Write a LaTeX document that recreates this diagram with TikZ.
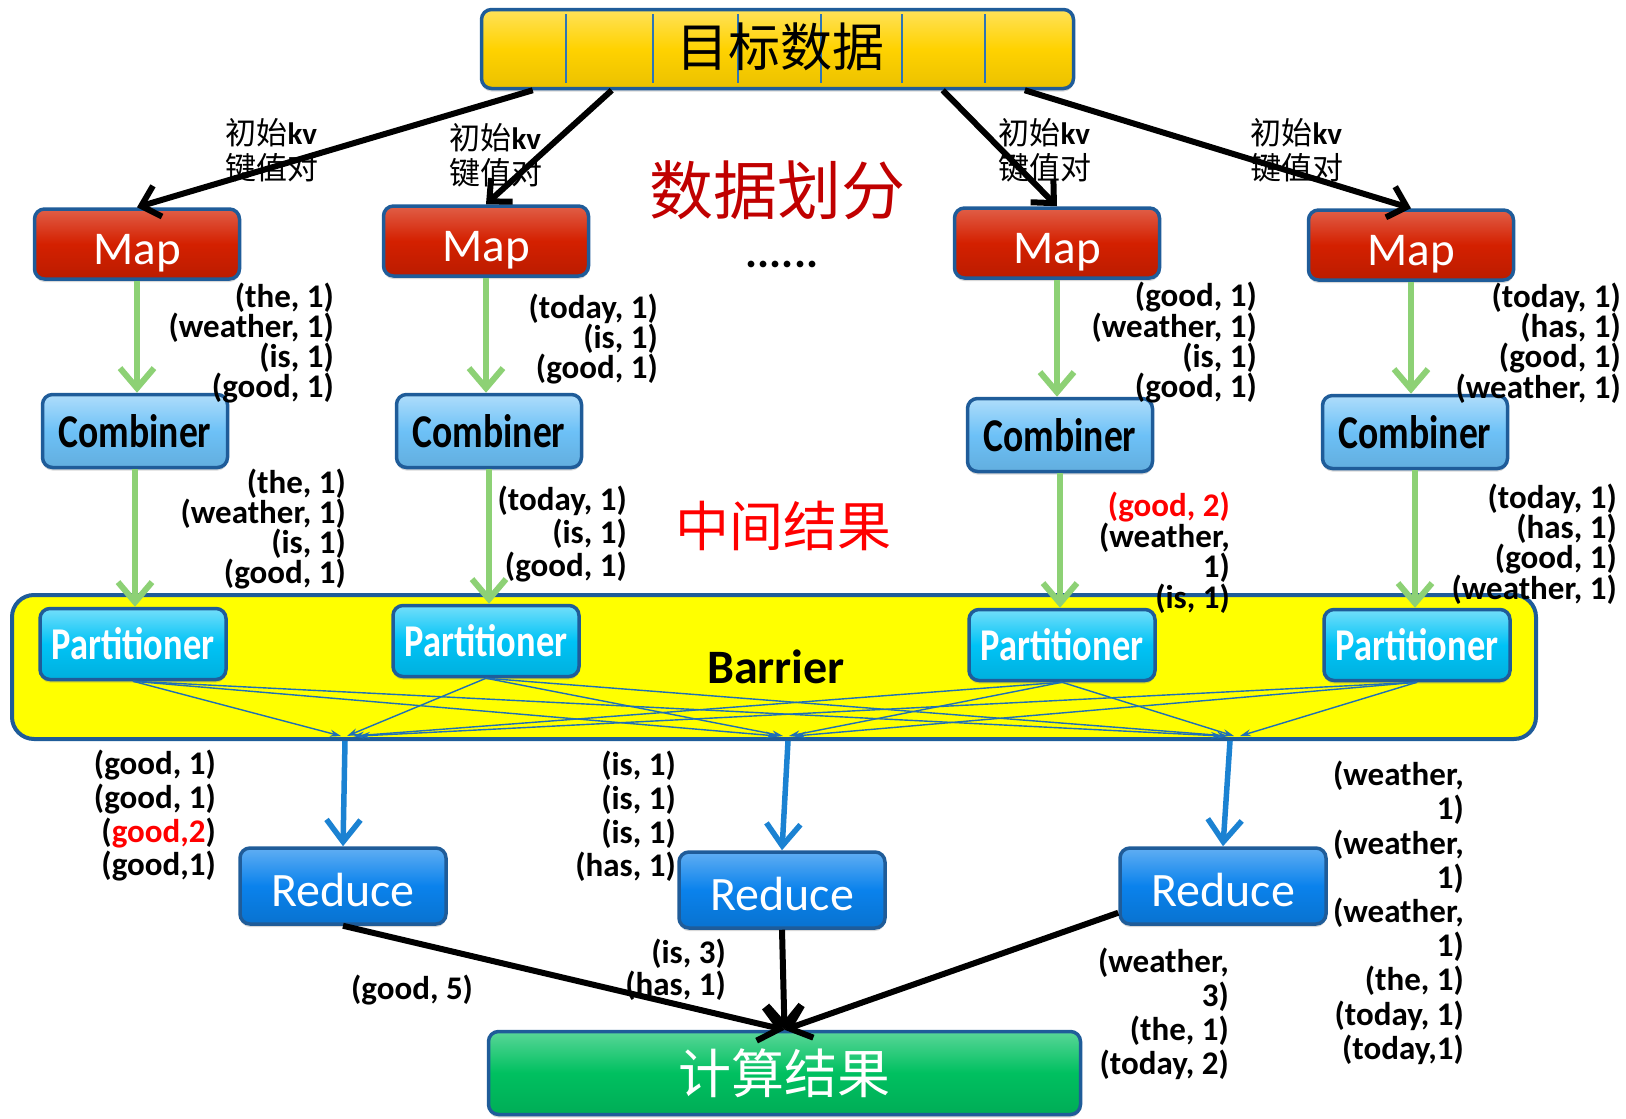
\documentclass[tikz,border=0pt]{standalone}
\usepackage{fontspec}
\setmainfont{Carlito}
\newfontfamily\cjk{Noto Sans CJK SC}
\newfontfamily\condensed[FakeStretch=0.8]{Carlito}
\usetikzlibrary{arrows.meta,calc,shadows}

\definecolor{boxedge}{HTML}{1F5C99}
\definecolor{topfill}{HTML}{FFD200}
\definecolor{mapfill}{HTML}{D42000}
\definecolor{combfill}{HTML}{6DC1F7}
\definecolor{partfill}{HTML}{00C3F6}
\definecolor{redfill}{HTML}{0A82EC}
\definecolor{resfill}{HTML}{00C060}
\definecolor{barfill}{HTML}{FFFF00}
\definecolor{flowgreen}{HTML}{8DD175}
\definecolor{flowblue}{HTML}{1B82D2}
\definecolor{thinblue}{HTML}{1F6FB5}
\definecolor{sepblue}{HTML}{2E75B6}
\definecolor{darkred}{HTML}{C00000}
\definecolor{brightred}{HTML}{FF0000}

% shift a box label down while keeping its nominal size
\newcommand{\lowered}[2]{\raisebox{-#1}[\height][\depth]{#2}}

\tikzset{
  box/.style={draw=boxedge, line width=3.5pt, rounded corners=10pt, inner sep=0pt,
    drop shadow={shadow xshift=0pt, shadow yshift=-3pt, opacity=0.3}},
  topbox/.style={box, top color=topfill!65!white, bottom color=topfill!92!black, middle color=topfill,
    minimum width=592pt, minimum height=79pt},
  mapbox/.style={box, top color=mapfill!72!white, bottom color=mapfill!88!black, middle color=mapfill,
    minimum width=205pt, minimum height=70pt, text=white, font=\fontsize{47}{47}\selectfont},
  combbox/.style={box, top color=combfill!55!white, bottom color=combfill!90!black, middle color=combfill,
    minimum width=185pt, minimum height=73pt, font=\condensed\bfseries\fontsize{47}{47}\selectfont},
  partbox/.style={box, top color=partfill!55!white, bottom color=partfill!90!black, middle color=partfill,
    minimum width=186pt, minimum height=71pt, text=white, font=\condensed\bfseries\fontsize{45.5}{45.5}\selectfont},
  redbox/.style={box, top color=redfill!65!white, bottom color=redfill!88!black, middle color=redfill,
    minimum width=206pt, minimum height=76pt, text=white, font=\fontsize{48}{48}\selectfont},
  resbox/.style={box, top color=resfill!65!white, bottom color=resfill!90!black, middle color=resfill,
    minimum width=592pt, minimum height=83pt, text=white, font=\cjk\fontsize{53}{53}\selectfont},
  barbox/.style={draw=boxedge, line width=4pt, fill=barfill, rounded corners=22pt,
    minimum width=1524pt, minimum height=144pt, inner sep=0pt},
  kvlabel/.style={align=left, inner sep=0pt, font=\fontsize{31}{35}\selectfont},
  pairs/.style={align=right, inner sep=0pt, anchor=north east, font=\bfseries\fontsize{33}{#1}\selectfont},
  pairs/.default=30,
  blackflow/.style={draw=black, line width=6pt, -{Straight Barb[length=17pt,width=32pt]}},
  greenflow/.style={draw=flowgreen, line width=6pt, -{Straight Barb[length=20pt,width=34pt]}},
  blueflow/.style={draw=flowblue, line width=5.5pt, -{Straight Barb[length=22pt,width=34pt]}},
  thinflow/.style={draw=thinblue, line width=1.4pt, -{Stealth[length=11pt,width=7pt]}},
  resultflow/.style={draw=black, line width=6pt, -{Straight Barb[length=20pt,width=34pt]}},
}

\begin{document}
\begin{tikzpicture}[x=1pt,y=-1pt]
\useasboundingbox (0,0) rectangle (1626,1119);

% ---------- source data ----------
\node[topbox] (src) at (777.5,49) {};
\foreach \x in {566,653,738,821,902,985}
  \draw[sepblue, line width=1.2pt] (\x,14) -- (\x,83);
\node[font=\cjk\fontsize{52}{52}\selectfont, inner sep=0pt] (srctxt) at (780,47) {目标数据};

% ---------- map stage ----------
\node[mapbox] (m1) at (137,244) {\lowered{9pt}{Map}};
\node[mapbox] (m2) at (486,241) {\lowered{9pt}{Map}};
\node[mapbox] (m3) at (1057,243) {\lowered{9pt}{Map}};
\node[mapbox] (m4) at (1411,245) {\lowered{9pt}{Map}};

\node[kvlabel] (kv1) at (272,150) {{\cjk 初始}\textbf{kv}\\{\cjk 键值对}};
\node[kvlabel] (kv2) at (496,155) {{\cjk 初始}\textbf{kv}\\{\cjk 键值对}};
\node[kvlabel] (kv3) at (1045,150) {{\cjk 初始}\textbf{kv}\\{\cjk 键值对}};
\node[kvlabel] (kv4) at (1297,150) {{\cjk 初始}\textbf{kv}\\{\cjk 键值对}};

\draw[blackflow] ([xshift=53pt]src.south west) -- (m1.north);
\draw[blackflow] ([xshift=132pt]src.south west) -- (m2.north);
\draw[blackflow] ([xshift=463pt]src.south west) -- (m3.north);
\draw[blackflow] ([xshift=545pt]src.south west) -- (m4.north);

\node[text=darkred, font=\cjk\fontsize{64}{64}\selectfont, inner sep=0pt] (split) at (777,190) {数据划分};
\node[font=\bfseries\fontsize{45}{45}\selectfont, inner sep=0pt] (dots) at (782,264) {......};

% ---------- combiner stage ----------
\node[combbox] (c1) at (135,431) {Combiner};
\node[combbox] (c2) at (489,431) {Combiner};
\node[combbox] (c3) at (1060,435) {Combiner};
\node[combbox] (c4) at (1415,432) {Combiner};

\draw[greenflow] (m1.south) -- (m1.south |- c1.north);
\draw[greenflow] (m2.south) -- (m2.south |- c2.north);
\draw[greenflow] (m3.south) -- (m3.south |- c3.north);
\draw[greenflow] (m4.south) -- (m4.south |- c4.north);

\node[pairs] (o1) at (334,283) {(the, 1)\\(weather, 1)\\(is, 1)\\(good, 1)};
\node[pairs] (o2) at (658,294) {(today, 1)\\(is, 1)\\(good, 1)};
\node[pairs] (o3) at (1257,282) {(good, 1)\\(weather, 1)\\(is, 1)\\(good, 1)};
\node[pairs] (o4) at (1621,283) {(today, 1)\\(has, 1)\\(good, 1)\\(weather, 1)};

\node[text=brightred, font=\cjk\fontsize{54}{54}\selectfont, inner sep=0pt] (mid) at (783,526) {中间结果};

% ---------- barrier and partitioners ----------
\node[barbox] (bar) at (774,667) {};
\node[font=\bfseries\fontsize{48}{48}\selectfont, inner sep=0pt] (bartxt) at (776,667) {Barrier};

\node[partbox] (p1) at (133,644) {Partitioner};
\node[partbox] (p2) at (486,641) {Partitioner};
\node[partbox] (p3) at (1062,645) {Partitioner};
\node[partbox] (p4) at (1417,645) {Partitioner};

\draw[greenflow] (c1.south) -- (c1.south |- p1.north);
\draw[greenflow] (c2.south) -- (c2.south |- p2.north);
\draw[greenflow] (c3.south) -- (c3.south |- p3.north);
\draw[greenflow] (c4.south) -- (c4.south |- p4.north);

\node[pairs] (q1) at (346,469) {(the, 1)\\(weather, 1)\\(is, 1)\\(good, 1)};
\node[pairs=33] (q2) at (627,486) {(today, 1)\\(is, 1)\\(good, 1)};
\node[pairs=30.5] (q3) at (1230,492) {\textcolor{brightred}{(good, 2)}\\(weather,\\1)\\(is, 1)};
\node[pairs] (q4) at (1617,484) {(today, 1)\\(has, 1)\\(good, 1)\\(weather, 1)};

% shuffle targets inside the barrier
\coordinate (t1) at (350,736);
\coordinate (t2) at (786,736);
\coordinate (t3) at (1231,736);
\foreach \p/\o in {p1/-9, p2/-3, p3/3, p4/9} {
  \draw[thinflow] (\p.south) -- ($(t1)+(\o,0)$);
  \draw[thinflow] (\p.south) -- ($(t2)+(\o,0)$);
  \draw[thinflow] (\p.south) -- ($(t3)+(\o,0)$);
}

% ---------- reduce stage ----------
\node[redbox] (r1) at (343,886) {\lowered{4pt}{Reduce}};
\node[redbox] (r2) at (782,890) {\lowered{4pt}{Reduce}};
\node[redbox] (r3) at (1223,886) {\lowered{4pt}{Reduce}};

\coordinate (b1) at (345,741);
\coordinate (b2) at (788,741);
\coordinate (b3) at (1230,741);
\draw[blueflow] (b1) -- (r1.north);
\draw[blueflow] (b2) -- (r2.north);
\draw[blueflow] (b3) -- (r3.north);

\node[pairs=33.7] (g1) at (216,750) {(good, 1)\\(good, 1)\\(\textcolor{brightred}{good,2})\\(good,1)};
\node[pairs=33.7] (g2) at (676,751) {(is, 1)\\(is, 1)\\(is, 1)\\(has, 1)};
\node[pairs=34.2] (g3) at (1464,761) {(weather,\\1)\\(weather,\\1)\\(weather,\\1)\\(the, 1)\\(today, 1)\\(today,1)};

% ---------- result ----------
\node[resbox] (res) at (784.5,1073) {计算结果};

\draw[resultflow] (r1.south) -- (res.north);
\draw[resultflow] (r2.south) -- (res.north);
\draw[resultflow] ([yshift=13pt]r3.south west) -- (res.north);

\node[font=\bfseries\fontsize{33}{33}\selectfont, inner sep=0pt] (f1) at (412,990) {(good, 5)};
\node[pairs=32] (f2) at (726,939) {(is, 3)\\(has, 1)};
\node[pairs=34] (f3) at (1229,948) {(weather,\\3)\\(the, 1)\\(today, 2)};

\end{tikzpicture}
\end{document}
